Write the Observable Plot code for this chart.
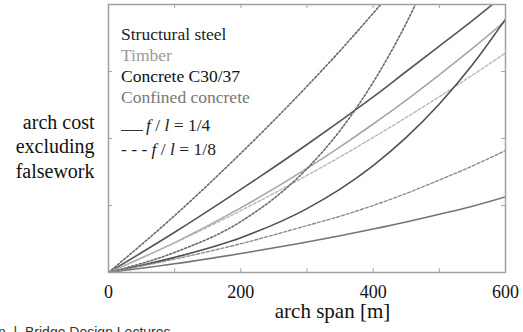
<!DOCTYPE html>
<html><head><meta charset="utf-8">
<script src="https://cdn.jsdelivr.net/npm/d3@7"></script>
<script src="https://cdn.jsdelivr.net/npm/@observablehq/plot@0.6"></script>
<style>
html,body{margin:0;padding:0;background:#fff;overflow:hidden;width:523px;height:332px}
#wrap{position:relative;width:523px;height:332px;overflow:hidden}
#wrap svg{position:absolute;left:0;top:0}
#legend{position:absolute;left:121px;top:24px;font-family:"Liberation Serif","Times New Roman",Times,Tinos,"DejaVu Serif","Noto Serif",serif;font-size:17.5px;line-height:21px;white-space:nowrap}
#legend .ratio{color:#222}
#legend .r1{margin-top:7px}
#legend .r2{margin-top:3px}
#legend .seg{display:inline-block;width:22px;height:0;border-bottom:1px solid #333;margin-right:3px}
#legend i{font-style:italic}
#footer{position:absolute;left:-2px;top:325px;font-family:"Liberation Sans",Arial,Helvetica,sans-serif;font-size:14px;line-height:14px;color:#333;white-space:pre}
</style></head><body><div id="wrap"></div>
<script>
// ---- data ----
const spans = [0, 100, 200, 300, 350, 400, 450, 500, 550, 600];
const steelQuarter     = [0, 0.60, 1.24, 1.91, 2.26, 2.62, 3.00, 3.38, 3.76, 4.16];
const steelEighth      = [0, 0.85, 1.78, 2.78, 3.31, 3.87, 4.45, null, null, null];
const timberQuarter    = [0, 0.446, 0.964, 1.554, 1.876, 2.216, 2.574, 2.95, 3.344, 3.756];
const timberEighth     = [0, 0.441, 0.924, 1.449, 1.727, 2.016, 2.315, 2.625, 2.945, 3.276];
const concreteQuarter  = [0, 0.226, 0.52, 0.954, 1.245, 1.596, 2.016, 2.515, 3.10, 3.78];
const concreteEighth   = [0, 0.30, 0.76, 1.55, 2.12, 2.84, 3.72, 4.79, null, null];
const confinedQuarter  = [0, 0.13, 0.285, 0.455, 0.55, 0.65, 0.755, 0.87, 0.99, 1.13];
const confinedEighth   = [0, 0.20, 0.43, 0.70, 0.84, 1.00, 1.18, 1.38, 1.59, 1.82];

const materials = ["Structural steel", "Timber", "Concrete C30/37", "Confined concrete"];
const ratios = ["1/4", "1/8"];
const xTickLabels = [0, 200, 400, 600];
const xTicks = [0, 100, 200, 300, 400, 500, 600];
const yTicks = [1, 2, 3];
const xLabel = "arch span [m]";
const yLabel = "arch cost\nexcluding\nfalsework";
const footerText = "n  |  Bridge Design Lectures";

// ---- styles ----
const serif = "'Liberation Serif', 'Times New Roman', Times, Tinos, 'DejaVu Serif', 'Noto Serif', serif";
const materialText = {"Structural steel": "#222", "Timber": "#999", "Concrete C30/37": "#111", "Confined concrete": "#777"};
const seriesDefs = [
  {values: steelQuarter,    stroke: "#555",    dash: null,  w: 1.6},
  {values: steelEighth,     stroke: "#6a6a6a", dash: "2,2", w: 1.6},
  {values: timberQuarter,   stroke: "#a6a6a6", dash: null,  w: 1.6},
  {values: timberEighth,    stroke: "#b8b8b8", dash: "3,2", w: 1.4},
  {values: concreteQuarter, stroke: "#505050", dash: null,  w: 1.6},
  {values: concreteEighth,  stroke: "#6a6a6a", dash: "2,2", w: 1.6},
  {values: confinedQuarter, stroke: "#737373", dash: null,  w: 1.5},
  {values: confinedEighth,  stroke: "#8c8c8c", dash: "3,2", w: 1.4}
];

const lineMarks = seriesDefs.map(s => {
  const rows = spans.map((x, i) => ({x, y: s.values[i]})).filter(d => d.y != null);
  return Plot.line(rows, {x: "x", y: "y", stroke: s.stroke, strokeWidth: s.w,
    strokeDasharray: s.dash ?? undefined, curve: "monotone-x", clip: true});
});

const tickColor = "#a8a8a8";
const chart = Plot.plot({
  width: 523, height: 332,
  marginLeft: 108, marginRight: 18, marginTop: 4, marginBottom: 60,
  x: {domain: [0, 600], axis: null},
  y: {domain: [0, 4], axis: null},
  style: {fontFamily: serif, fontSize: "18px", background: "white", color: "#111"},
  marks: [
    Plot.ruleX(xTicks, {x: d => d, insetTop: 264, stroke: tickColor}),
    Plot.ruleX(xTicks, {x: d => d, insetBottom: 264, stroke: tickColor}),
    Plot.ruleY(yTicks, {y: d => d, insetRight: 393, stroke: tickColor}),
    Plot.ruleY(yTicks, {y: d => d, insetLeft: 393, stroke: tickColor}),
    ...lineMarks,
    Plot.frame({stroke: "#a0a0a0", strokeWidth: 1.5}),
    Plot.axisX(xTickLabels, {tickSize: 0, tickPadding: 13, fontSize: 18, label: null, fill: "#111"}),
    Plot.text([xLabel], {text: d => d, frameAnchor: "bottom", lineAnchor: "bottom", dx: 25.5, dy: 45, fontSize: 21, fill: "#111"}),
    Plot.text([yLabel], {text: d => d, frameAnchor: "left", textAnchor: "end", lineAnchor: "middle", lineHeight: 1.225, dx: -14, dy: 7, fontSize: 20, fill: "#111"})
  ]
});

const wrap = document.getElementById("wrap");
wrap.appendChild(chart);

// legend (HTML overlay)
const legend = document.createElement("div");
legend.id = "legend";
materials.forEach(m => {
  const d = document.createElement("div");
  d.textContent = m;
  d.style.color = materialText[m];
  legend.appendChild(d);
});
ratios.forEach((r, i) => {
  const d = document.createElement("div");
  d.className = "ratio " + (i === 0 ? "r1" : "r2");
  const mark = i === 0 ? '<span class="seg"></span>' : '- - - ';
  d.innerHTML = mark + '<i>f</i> / <i>l</i> = ' + r;
  legend.appendChild(d);
});
wrap.appendChild(legend);

const footer = document.createElement("div");
footer.id = "footer";
footer.textContent = footerText;
wrap.appendChild(footer);
</script>
</body></html>
